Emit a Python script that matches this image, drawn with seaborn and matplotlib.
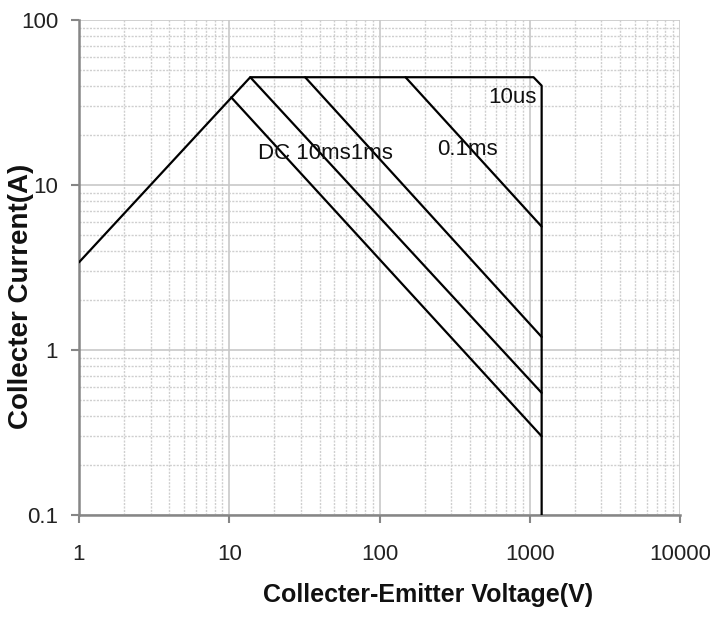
import matplotlib
matplotlib.use("Agg")
import matplotlib.pyplot as plt
from matplotlib.ticker import LogLocator, FixedLocator, NullFormatter
import seaborn as sns
import pandas as pd

# Safe operating area boundary (outer envelope incl. 10us pulse)
bound_v = [1, 13.8, 1060, 1200, 1200]
bound_i = [3.4, 45, 45, 40, 0.1]

# Pulse-width limit lines
dc_v, dc_i = [10.3, 1200], [34, 0.3]
ms10_v, ms10_i = [13.8, 1200], [45, 0.55]
ms1_v, ms1_i = [32, 1200], [45, 1.2]
ms01_v, ms01_i = [149, 1200], [45, 5.6]

x_ticks = [1, 10, 100, 1000, 10000]
x_tick_labels = ["1", "10", "100", "1000", "10000"]
y_ticks = [0.1, 1, 10, 100]
y_tick_labels = ["0.1", "1", "10", "100"]

sns.set_theme(style="white")
plt.rcParams["font.family"] = ["Liberation Sans", "DejaVu Sans"]

fig = plt.figure(figsize=(7.1, 6.2), dpi=100)
ax = fig.add_axes([79 / 710, 1 - 515 / 620, 601 / 710, 495 / 620])

curves = [
    ("SOA", bound_v, bound_i),
    ("DC", dc_v, dc_i),
    ("10ms", ms10_v, ms10_i),
    ("1ms", ms1_v, ms1_i),
    ("0.1ms", ms01_v, ms01_i),
]
rows = []
for name, vs, cs in curves:
    for k, (v, c) in enumerate(zip(vs, cs)):
        rows.append({"curve": name, "order": k, "V": v, "I": c})
df = pd.DataFrame(rows)

for name, _, _ in curves:
    sub = df[df["curve"] == name]
    sns.lineplot(data=sub, x="V", y="I", sort=False, estimator=None,
                 color="black", linewidth=1.6, ax=ax, legend=False, zorder=3)

ax.set_xscale("log")
ax.set_yscale("log")
ax.set_xlim(1, 10000)
ax.set_ylim(0.1, 100)

ax.xaxis.set_major_locator(FixedLocator(x_ticks))
ax.set_xticklabels(x_tick_labels)
ax.yaxis.set_major_locator(FixedLocator(y_ticks))
ax.set_yticklabels(y_tick_labels)
ax.xaxis.set_minor_locator(LogLocator(base=10, subs=range(2, 10)))
ax.yaxis.set_minor_locator(LogLocator(base=10, subs=range(2, 10)))
ax.xaxis.set_minor_formatter(NullFormatter())
ax.yaxis.set_minor_formatter(NullFormatter())

ax.grid(which="major", color="#c8c8c8", linewidth=1.2, linestyle="-", zorder=0)
ax.grid(which="minor", color="#cfcfcf", linewidth=1.0, linestyle=(0, (1.5, 1)), zorder=0)

for side in ("top", "right"):
    ax.spines[side].set_visible(False)
for side in ("left", "bottom"):
    ax.spines[side].set_color("#868686")
    ax.spines[side].set_linewidth(1.8)

ax.tick_params(axis="x", which="major", direction="out", length=6, width=1.5,
               color="#868686", pad=15, labelsize=16, labelcolor="#222222", bottom=True)
ax.tick_params(axis="y", which="major", direction="out", length=6, width=1.5,
               color="#868686", pad=9, labelsize=16, labelcolor="#222222", left=True)
ax.tick_params(which="minor", length=0)

ax.set_xlabel("Collecter-Emitter Voltage(V)", fontsize=18, fontweight="bold",
              color="#111111", va="center")
ax.xaxis.set_label_coords(0.581, -0.162)
ax.set_ylabel("Collecter Current(A)", fontsize=20, fontweight="bold",
              color="#111111", va="center")
ax.yaxis.set_label_coords(-0.097, 0.442)

ax.text(770, 33.7, "10us", fontsize=16, ha="center", va="center", color="#111111", zorder=4)
ax.text(43.7, 15.6, "DC 10ms1ms", fontsize=16, ha="center", va="center",
        color="#111111", zorder=4)
ax.text(386, 16.3, "0.1ms", fontsize=16, ha="center", va="center", color="#111111", zorder=4)

fig.savefig("out.png", dpi=100)
